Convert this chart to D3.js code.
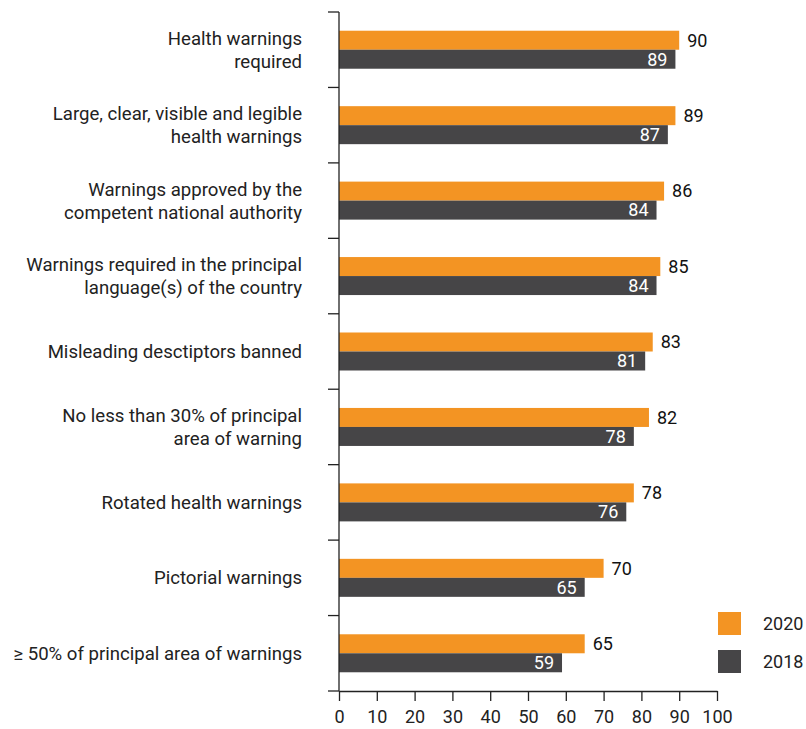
<!DOCTYPE html>
<html>
<head>
<meta charset="utf-8">
<script src="https://cdn.jsdelivr.net/npm/d3@7"></script>
<style>
  body { margin: 0; background: #fff; }
  svg { display: block; font-family: Roboto, "Noto Sans", sans-serif; }
</style>
</head>
<body>
<svg id="chart" width="806" height="729"></svg>
<script>
const categories = [
  "Health warnings\nrequired",
  "Large, clear, visible and legible\nhealth warnings",
  "Warnings approved by the\ncompetent national authority",
  "Warnings required in the principal\nlanguage(s) of the country",
  "Misleading desctiptors banned",
  "No less than 30% of principal\narea of warning",
  "Rotated health warnings",
  "Pictorial warnings",
  "≥ 50% of principal area of warnings"
];
const values2020 = [90, 89, 86, 85, 83, 82, 78, 70, 65];
const values2018 = [89, 87, 84, 84, 81, 78, 76, 65, 59];
const seriesNames = ["2020", "2018"];
const xTicks = [0, 10, 20, 30, 40, 50, 60, 70, 80, 90, 100];

const colors = { "2020": "#f39423", "2018": "#464547" };
const fontSize = 18;
const labelFontSize = 18.6;

const svg = d3.select("#chart");
const margin = { left: 339, right: 89, top: 12, bottom: 38 };
const W = 806, H = 729;

const x = d3.scaleLinear().domain([0, 100]).range([margin.left, W - margin.right]);
const y = d3.scaleBand().domain(d3.range(categories.length)).range([margin.top, H - margin.bottom]);
const barH = 19;

const rows = categories.map((c, i) => ({ i, c, v2020: values2020[i], v2018: values2018[i] }));

// bars and their value labels
const g = svg.append("g");
rows.forEach(r => {
  const cy = y(r.i) + y.bandwidth() / 2;
  g.append("rect")
    .attr("x", x(0)).attr("y", cy - barH)
    .attr("width", x(r.v2020) - x(0)).attr("height", barH)
    .attr("fill", colors["2020"]);
  g.append("rect")
    .attr("x", x(0)).attr("y", cy)
    .attr("width", x(r.v2018) - x(0)).attr("height", barH)
    .attr("fill", colors["2018"]);
  g.append("text")
    .attr("x", x(r.v2020) + 8).attr("y", cy - barH / 2)
    .attr("dy", "0.35em").attr("font-size", fontSize).attr("fill", "#111")
    .text(r.v2020);
  g.append("text")
    .attr("x", x(r.v2018) - 8).attr("y", cy + barH / 2)
    .attr("dy", "0.35em").attr("font-size", fontSize).attr("fill", "#fff")
    .attr("text-anchor", "end")
    .text(r.v2018);
});

// category labels
rows.forEach(r => {
  const lines = r.c.split("\n");
  const cy = y(r.i) + y.bandwidth() / 2;
  const lh = 23;
  const t = svg.append("text")
    .attr("x", 302).attr("text-anchor", "end")
    .attr("font-size", labelFontSize).attr("fill", "#222");
  lines.forEach((ln, k) => {
    t.append("tspan")
      .attr("x", 302)
      .attr("y", cy + (k - (lines.length - 1) / 2) * lh)
      .attr("dy", "0.35em")
      .text(ln);
  });
});

// y axis with ticks at band boundaries
const axisColor = "#222";
svg.append("line")
  .attr("x1", x(0)).attr("x2", x(0))
  .attr("y1", margin.top).attr("y2", H - margin.bottom)
  .attr("stroke", axisColor).attr("stroke-width", 1.3);
d3.range(categories.length + 1).forEach(k => {
  const yy = margin.top + k * y.step();
  svg.append("line")
    .attr("x1", x(0) - 11).attr("x2", x(0))
    .attr("y1", yy).attr("y2", yy)
    .attr("stroke", axisColor).attr("stroke-width", 1.3);
});

// x axis
const xAxis = d3.axisBottom(x).tickValues(xTicks).tickSize(10).tickPadding(9).tickSizeOuter(0);
const xg = svg.append("g")
  .attr("transform", `translate(0,${H - margin.bottom})`)
  .call(xAxis);
xg.select(".domain").attr("stroke", axisColor).attr("stroke-width", 1.3);
xg.selectAll(".tick line").attr("stroke", axisColor).attr("stroke-width", 1.3);
xg.selectAll(".tick text").attr("font-size", fontSize).attr("fill", "#222")
  .attr("font-family", "Roboto, 'Noto Sans', sans-serif");

// legend
const leg = svg.append("g");
seriesNames.forEach((s, k) => {
  const ly = 612 + k * 38;
  leg.append("rect").attr("x", 718).attr("y", ly).attr("width", 23).attr("height", 23)
    .attr("fill", colors[s]);
  leg.append("text").attr("x", 763).attr("y", ly + 11.5).attr("dy", "0.35em")
    .attr("font-size", fontSize).attr("fill", "#222").text(s);
});
</script>
</body>
</html>
